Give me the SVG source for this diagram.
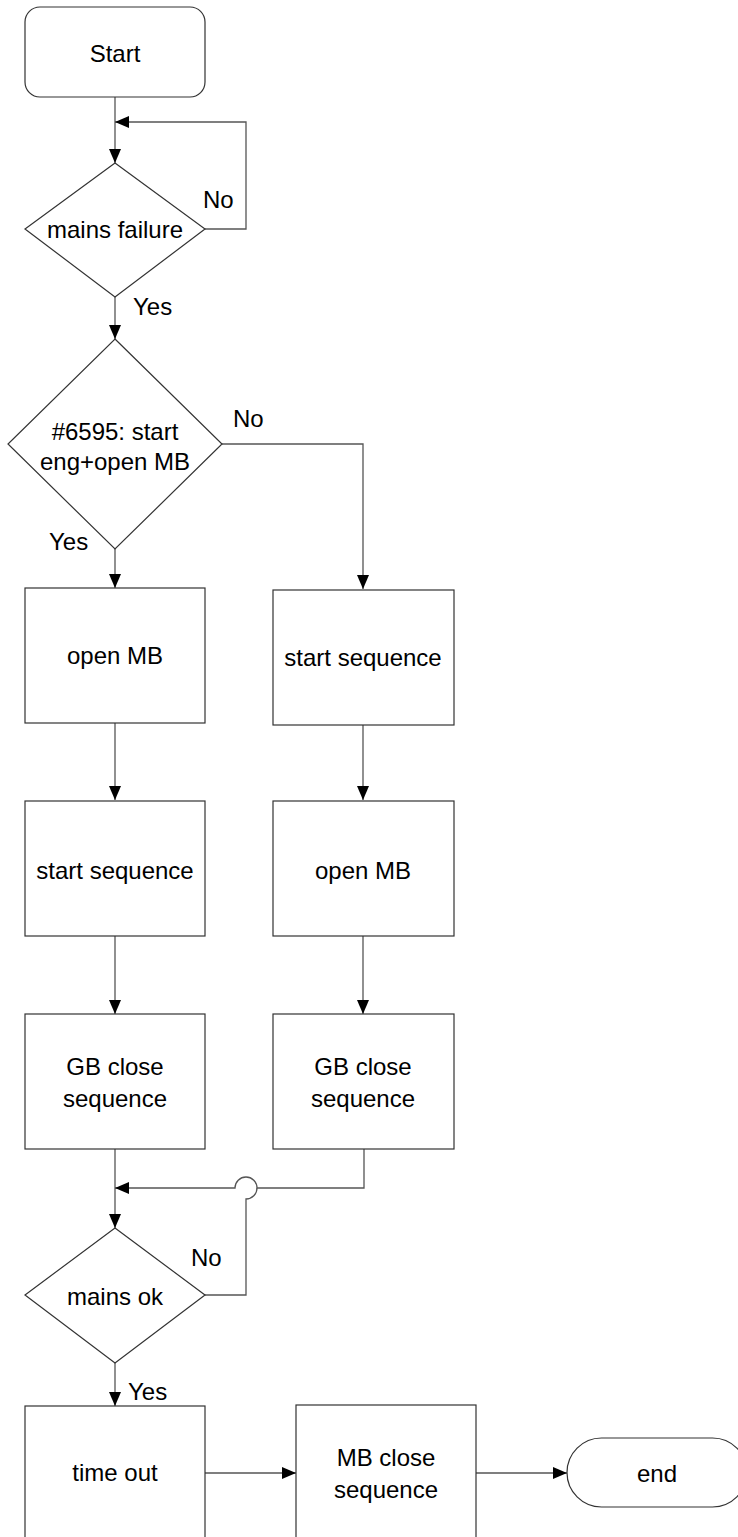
<svg xmlns="http://www.w3.org/2000/svg" width="738" height="1537" viewBox="0 0 738 1537">
<style>
.shape{fill:#ffffff;stroke:#333333;stroke-width:1.2}
.conn{fill:none;stroke:#555555;stroke-width:1.3}
text{font-family:"Liberation Sans",Arial,sans-serif;font-size:24px;fill:#000000}
.c{text-anchor:middle}
</style>
<defs>
<marker id="arr" viewBox="0 0 14 12" refX="14" refY="6" markerWidth="14" markerHeight="12" markerUnits="userSpaceOnUse" orient="auto">
<path d="M0,0 L14,6 L0,12 Z" fill="#000000"/>
</marker>
</defs>
<rect width="738" height="1537" fill="#ffffff"/>
<g id="connectors">
<path class="conn" d="M115,97 V163" marker-end="url(#arr)"/>
<path class="conn" d="M205,229 H246 V122 H115" marker-end="url(#arr)"/>
<path class="conn" d="M115,297 V339" marker-end="url(#arr)"/>
<path class="conn" d="M222,444 H363 V589" marker-end="url(#arr)"/>
<path class="conn" d="M115,549 V588" marker-end="url(#arr)"/>
<path class="conn" d="M115,723 V800" marker-end="url(#arr)"/>
<path class="conn" d="M363,725 V800" marker-end="url(#arr)"/>
<path class="conn" d="M115,936 V1014" marker-end="url(#arr)"/>
<path class="conn" d="M363,936 V1014" marker-end="url(#arr)"/>
<path class="conn" d="M115,1149 V1228" marker-end="url(#arr)"/>
<path class="conn" d="M364,1149 V1188 H257 A11,11 0 0 0 235,1188 H115" marker-end="url(#arr)"/>
<path class="conn" d="M205,1295 H246 V1199 A11,11 0 0 0 257,1188"/>
<path class="conn" d="M115,1363 V1406" marker-end="url(#arr)"/>
<path class="conn" d="M205,1473 H296" marker-end="url(#arr)"/>
<path class="conn" d="M476,1473 H567" marker-end="url(#arr)"/>
<text x="203" y="208">No</text>
<text x="133" y="315">Yes</text>
<text x="233" y="427">No</text>
<text x="49" y="550">Yes</text>
<text x="191" y="1266">No</text>
<text x="128" y="1400">Yes</text>
</g>
<g id="start">
<rect class="shape" x="25" y="7" width="180" height="90" rx="15" ry="15"/>
<text class="c" x="115" y="62">Start</text>
</g>
<g id="mains-failure">
<polygon class="shape" points="115,163 205,229 115,297 25,229"/>
<text class="c" x="115" y="238">mains failure</text>
</g>
<g id="decision-6595">
<polygon class="shape" points="115,339 222,444 115,549 8,444"/>
<text class="c" x="115" y="440">#6595: start</text>
<text class="c" x="115" y="470">eng+open MB</text>
</g>
<g id="open-mb-1">
<rect class="shape" x="25" y="588" width="180" height="135"/>
<text class="c" x="115" y="664">open MB</text>
</g>
<g id="start-seq-2">
<rect class="shape" x="273" y="590" width="181" height="135"/>
<text class="c" x="363" y="666">start sequence</text>
</g>
<g id="start-seq-1">
<rect class="shape" x="25" y="801" width="180" height="135"/>
<text class="c" x="115" y="879">start sequence</text>
</g>
<g id="open-mb-2">
<rect class="shape" x="273" y="801" width="181" height="135"/>
<text class="c" x="363" y="879">open MB</text>
</g>
<g id="gb-close-1">
<rect class="shape" x="25" y="1014" width="180" height="135"/>
<text class="c" x="115" y="1075">GB close</text>
<text class="c" x="115" y="1107">sequence</text>
</g>
<g id="gb-close-2">
<rect class="shape" x="273" y="1014" width="181" height="135"/>
<text class="c" x="363" y="1075">GB close</text>
<text class="c" x="363" y="1107">sequence</text>
</g>
<g id="mains-ok">
<polygon class="shape" points="115,1228 205,1295 115,1363 25,1295"/>
<text class="c" x="115" y="1305">mains ok</text>
</g>
<g id="time-out">
<rect class="shape" x="25" y="1406" width="180" height="135"/>
<text class="c" x="115" y="1481">time out</text>
</g>
<g id="mb-close">
<rect class="shape" x="296" y="1405" width="180" height="135"/>
<text class="c" x="386" y="1466">MB close</text>
<text class="c" x="386" y="1498">sequence</text>
</g>
<g id="end">
<rect class="shape" x="567" y="1438" width="180" height="69" rx="34.5" ry="34.5"/>
<text class="c" x="657" y="1482">end</text>
</g>
</svg>
